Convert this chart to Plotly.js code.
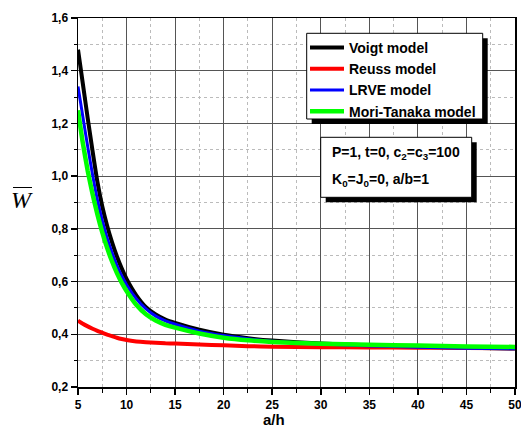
<!DOCTYPE html>
<html>
<head>
<meta charset="utf-8">
<script src="https://cdn.plot.ly/plotly-3.0.1.min.js"></script>
<style>html,body{margin:0;padding:0;background:#fff;}#chart{width:521px;height:435px;}</style>
</head>
<body>
<div id="chart"></div>
<script>
// ---- data ----
const aOverH = [5,5.5,6,6.5,7,7.5,8,8.5,9,9.5,10,11,12,13,14,15,17.5,20,22.5,25,30,35,40,45,50];
const voigt = [1.48,1.35,1.22,1.095,0.978,0.885,0.812,0.75,0.696,0.65,0.61,0.548,0.503,0.475,0.456,0.443,0.417,0.398,0.385,0.376,0.365,0.358,0.353,0.349,0.346];
const reuss = [0.452,0.44,0.43,0.421,0.413,0.406,0.399,0.393,0.387,0.382,0.378,0.373,0.37,0.368,0.366,0.365,0.361,0.358,0.355,0.353,0.351,0.35,0.349,0.348,0.347];
const lrve = [1.34,1.225,1.112,1.005,0.91,0.832,0.766,0.71,0.662,0.622,0.588,0.535,0.496,0.469,0.451,0.438,0.412,0.395,0.383,0.374,0.363,0.356,0.351,0.347,0.345];
const moriTanaka = [1.25,1.125,1.02,0.932,0.855,0.787,0.728,0.677,0.633,0.596,0.564,0.512,0.476,0.452,0.436,0.425,0.403,0.387,0.377,0.371,0.364,0.36,0.357,0.354,0.352];
const seriesNames = ["Voigt model","Reuss model","LRVE model","Mori-Tanaka model"];
const xTickVals = [5,10,15,20,25,30,35,40,45,50];
const yTickVals = [0.2,0.4,0.6,0.8,1.0,1.2,1.4,1.6];

// ---- layout helpers (pixel -> paper) ----
const W = 521, H = 435;
const M = {l:78, r:6, t:18, b:48};
const PW = W - M.l - M.r, PH = H - M.t - M.b;
const px = x => (x - M.l) / PW;
const py = y => 1 - (y - M.t) / PH;

const FONT = "Liberation Sans, Arial, sans-serif";
const colors = ["#000000","#ff0000","#0000ff","#00ff00"];
const widths = [4,4,3,4.5];
const ys = [voigt, reuss, lrve, moriTanaka];

const traces = ys.map((y,i) => ({
  type: "scatter", mode: "lines", x: aOverH, y: y, name: seriesNames[i],
  line: {color: colors[i], width: widths[i], shape: "spline", smoothing: 0.5}
}));

function rectPx(x0,y0,x1,y1,fill,lw){
  return {type:"rect", xref:"paper", yref:"paper", x0:px(x0), x1:px(x1), y0:py(y1), y1:py(y0),
    fillcolor: fill, line:{color:"#000", width: lw}, layer:"above"};
}

const shapes = [
  // legend frame with drop shadow
  rectPx(311.7,38.3,487.7,124,"#000",0),
  rectPx(306.7,33.3,482.7,119,"#fff",1),
  // parameter box with drop shadow
  rectPx(325.7,142.3,476.7,202.3,"#000",0),
  rectPx(320.7,137.3,471.7,197.3,"#fff",1),
  // overline for W
  {type:"line", xref:"paper", yref:"paper", x0:px(13), x1:px(32), y0:py(187.5), y1:py(187.5), line:{color:"#000", width:1}}
];

const annotations = [
  {xref:"paper", yref:"paper", x:px(330), y:py(152.7), xanchor:"left", yanchor:"middle", showarrow:false,
   text:"P=1, t=0, c<sub>2</sub>=c<sub>3</sub>=100", font:{family:FONT, size:14, color:"#000", weight:"bold"}},
  {xref:"paper", yref:"paper", x:px(330), y:py(180), xanchor:"left", yanchor:"middle", showarrow:false,
   text:"K<sub>0</sub>=J<sub>0</sub>=0, a/b=1", font:{family:FONT, size:14, color:"#000", weight:"bold"}},
  {xref:"paper", yref:"paper", x:px(22), y:py(200), xanchor:"center", yanchor:"middle", showarrow:false,
   text:"<i>W</i>", font:{family:"Liberation Serif, Times New Roman, serif", size:24, color:"#000"}},
  {xref:"paper", yref:"paper", x:px(274), y:py(419), xanchor:"center", yanchor:"middle", showarrow:false,
   text:"a/h", font:{family:FONT, size:15, color:"#000", weight:"bold"}}
];

const layout = {
  width: W, height: H,
  margin: {l:M.l, r:M.r, t:M.t, b:M.b, pad:0},
  paper_bgcolor: "#fff", plot_bgcolor: "#fff",
  separators: ", ",
  showlegend: true,
  legend: {x: px(305), y: py(32), xanchor:"left", yanchor:"top",
    bgcolor:"rgba(0,0,0,0)", borderwidth:0, traceorder:"normal",
    itemwidth: 34,
    font:{family:FONT, size:14, color:"#000", weight:"bold"}},
  xaxis: {range:[5,50], tickvals:xTickVals, ticktext:xTickVals.map(String),
    showline:true, linecolor:"#000", linewidth:1.5, mirror:true,
    ticks:"outside", ticklen:6, tickwidth:1.5, tickcolor:"#000",
    ticklabeloverflow:"allow",
    showgrid:true, gridcolor:"#555", gridwidth:1, zeroline:false,
    tickfont:{family:FONT, size:12, color:"#000", weight:"bold"},
    minor:{dtick:2.5, tick0:5, ticks:"outside", ticklen:4, tickwidth:1, tickcolor:"#000", showgrid:true, gridcolor:"#bbb", griddash:"dot", gridwidth:1}},
  yaxis: {range:[0.2,1.6], tickvals:yTickVals, tickformat:".1f",
    showline:true, linecolor:"#000", linewidth:1.5, mirror:true,
    ticks:"outside", ticklen:6, tickwidth:1.5, tickcolor:"#000",
    showgrid:true, gridcolor:"#555", gridwidth:1, zeroline:false,
    tickfont:{family:FONT, size:12, color:"#000", weight:"bold"},
    minor:{dtick:0.1, tick0:0.2, ticks:"outside", ticklen:3, tickwidth:1, tickcolor:"#000", showgrid:true, gridcolor:"#bbb", griddash:"dot", gridwidth:1}},
  shapes: shapes,
  annotations: annotations
};

Plotly.newPlot("chart", traces, layout, {displayModeBar:false, staticPlot:true});
</script>
</body>
</html>
